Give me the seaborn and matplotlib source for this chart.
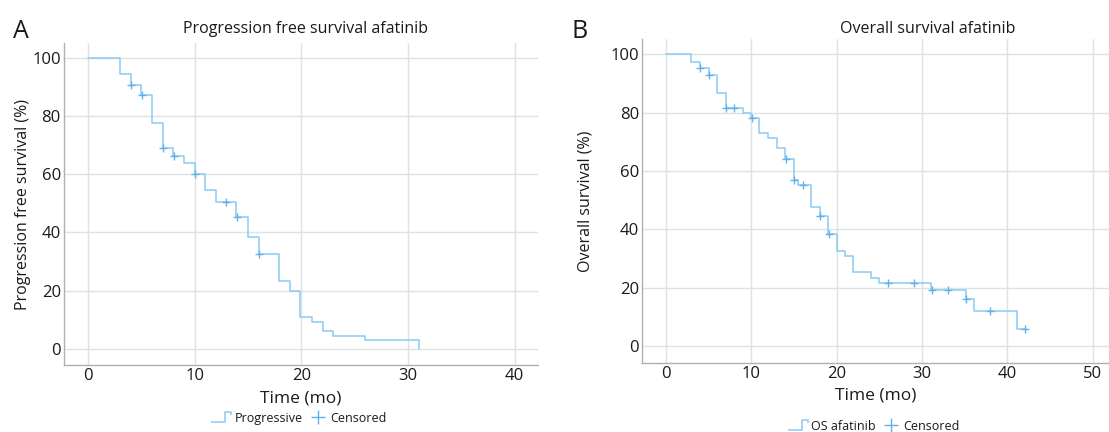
import numpy as np
import pandas as pd
import matplotlib
matplotlib.use("Agg")
import matplotlib.pyplot as plt
from matplotlib.lines import Line2D
from matplotlib.path import Path
import seaborn as sns

# ---------------- data ----------------
pfs_time = [0, 3.0, 4.0, 5.0, 6.0, 7.0, 8.0, 9.0, 10.0, 11.0, 12.0, 13.9,
            15.0, 16.0, 17.9, 18.9, 19.9, 21.0, 22.0, 23.0, 26.0, 31.0]
pfs_surv = [100, 94.3, 90.7, 87.1, 77.6, 69.0, 66.3, 63.9, 60.0, 54.5, 50.5,
            45.4, 38.3, 32.6, 23.3, 20.0, 11.1, 9.1, 6.2, 4.6, 3.1, 0]
pfs_cens_time = [4.05, 5.05, 7.05, 8.05, 10.05, 12.9, 14.0, 16.05]
pfs_cens_surv = [90.7, 87.1, 69.0, 66.3, 60.0, 50.5, 45.4, 32.6]

os_time = [0, 2.9, 4.0, 5.0, 6.0, 7.0, 9.0, 10.0, 10.9, 12.0, 13.0, 13.9,
           15.0, 15.5, 17.0, 18.0, 19.0, 20.0, 21.0, 21.9, 24.0, 25.0, 31.1,
           35.1, 36.1, 41.1, 42.2]
os_surv = [100, 97.5, 95.2, 92.9, 86.8, 81.8, 79.8, 78.3, 72.9, 71.5, 67.8,
           64.0, 56.9, 55.4, 47.8, 44.6, 38.3, 32.7, 30.9, 25.5, 23.5, 21.7,
           19.4, 16.1, 12.0, 5.8, 5.8]
os_cens_time = [4.05, 5.05, 7.05, 8.0, 10.05, 14.05, 15.05, 16.0, 18.05,
                19.05, 26.0, 29.1, 31.15, 33.1, 35.15, 38.0, 42.1]
os_cens_surv = [95.2, 92.9, 81.8, 81.8, 78.3, 64.0, 56.9, 55.4, 44.6,
                38.3, 21.7, 21.7, 19.4, 19.4, 16.1, 12.0, 5.8]

y_ticks = [0, 20, 40, 60, 80, 100]
pfs_xticks = [0, 10, 20, 30, 40]
os_xticks = [0, 10, 20, 30, 40, 50]

# ---------------- style ----------------
sns.set_theme(style="white")
plt.rcParams['font.family'] = ['Open Sans', 'DejaVu Sans']

LINE = "#8ccaf4"
CENS = "#62b2ea"
GRID = "#dbe3e3"
SPINE = "#aab3b3"
TXT = "#1a1a1a"

fig = plt.figure(figsize=(11.09, 4.32), dpi=100)
axA = fig.add_axes([0.0573, 0.155, 0.4278, 0.7454])
axB = fig.add_axes([0.5789, 0.1597, 0.4211, 0.75])

step_path = Path([(-1.0, -0.45), (0.25, -0.45), (0.25, 0.45), (0.85, 0.45), (0.85, 0.15)])


def km_panel(ax, t, s, ct, cs, xticks, xlim, ylim, ylabel, ylabelpad, title,
             title_x, title_pad, lname, leg_y, xlabelpad):
    sns.lineplot(x=t, y=s, ax=ax, estimator=None, sort=False,
                 drawstyle="steps-post", color=LINE, linewidth=1.1, zorder=3)
    sns.scatterplot(x=ct, y=cs, ax=ax, marker="+", s=26, color=CENS,
                    linewidth=1.0, zorder=4)
    ax.set_xlim(*xlim)
    ax.set_ylim(*ylim)
    ax.set_xticks(xticks)
    ax.set_yticks(y_ticks)
    ax.grid(True, color=GRID, linewidth=1.0, zorder=0)
    ax.set_axisbelow(True)
    for side in ["top", "right"]:
        ax.spines[side].set_visible(False)
    for side in ["left", "bottom"]:
        ax.spines[side].set_color(SPINE)
        ax.spines[side].set_linewidth(1.0)
    ax.tick_params(axis="both", length=0, labelsize=12, colors=TXT, pad=2)
    ax.set_xlabel("Time (mo)", fontsize=12.5, color=TXT, labelpad=xlabelpad)
    ax.set_ylabel(ylabel, fontsize=11.5, color=TXT, labelpad=ylabelpad)
    ax.set_title(title, fontsize=11.5, color=TXT, x=title_x, pad=title_pad)
    handles = [
        Line2D([], [], marker=step_path, linestyle="none", markersize=16,
               markerfacecolor="none", markeredgecolor=LINE, markeredgewidth=1.1),
        Line2D([], [], marker="+", linestyle="none", markersize=10,
               color=CENS, markeredgewidth=1.0),
    ]
    ax.legend(handles, [lname, "Censored"], loc="center",
              bbox_to_anchor=(0.5, leg_y), ncol=2, frameon=False,
              fontsize=9, handlelength=1.2, handletextpad=0.4,
              columnspacing=0.6, labelcolor=TXT)


km_panel(axA, pfs_time, pfs_surv, pfs_cens_time, pfs_cens_surv, pfs_xticks,
         (-2.3, 42.2), (-5.5, 105), "Progression free survival (%)", 1,
         "Progression free survival afatinib", 0.509, 7, "Progressive", -0.165, 5)
km_panel(axB, os_time, os_surv, os_cens_time, os_cens_surv, os_xticks,
         (-2.8, 51.9), (-5.8, 105.3), "Overall survival (%)", 12,
         "Overall survival afatinib", 0.612, 4, "OS afatinib", -0.195, 4)

fig.text(0.012, 0.913, "A", fontsize=18, color=TXT)
fig.text(0.515, 0.913, "B", fontsize=18, color=TXT)

fig.savefig("out.png", dpi=100)
